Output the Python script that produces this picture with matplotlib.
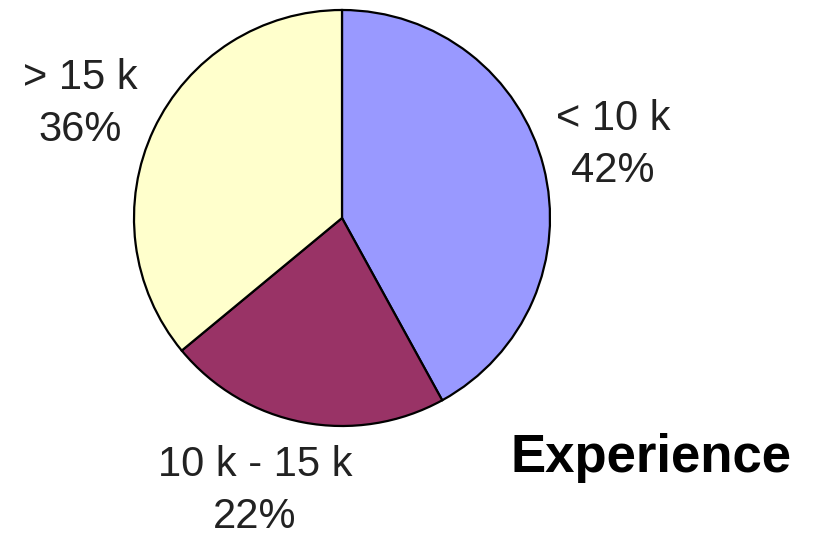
"""Pie chart of experience bands."""

import matplotlib

matplotlib.use("Agg")
import matplotlib.pyplot as plt

categories = ["< 10 k", "10 k - 15 k", "> 15 k"]
shares = [42, 22, 36]
colors = ["#9999FF", "#993366", "#FFFFCC"]
title = "Experience"

# label anchors in figure pixels (x, y from bottom)
label_pos = [(613, 393), (255, 47), (80, 434)]

plt.rcParams["font.family"] = ["Liberation Sans", "DejaVu Sans"]

fig = plt.figure(figsize=(8.13, 5.38), dpi=100)
ax = fig.add_axes([0, 0, 1, 1])

ax.pie(
    shares,
    colors=colors,
    startangle=90,
    counterclock=False,
    center=(342, 320),
    radius=208,
    wedgeprops={"edgecolor": "black", "linewidth": 1.6},
    frame=True,
)
ax.set_xlim(0, 813)
ax.set_ylim(0, 538)
ax.set_aspect("equal")
ax.axis("off")

for name, share, (x, y) in zip(categories, shares, label_pos):
    ax.text(x, y, f"{name}\n{share}%", ha="center", va="center",
            fontsize=30, linespacing=1.4, color="#222222")

ax.text(651, 66, title, ha="center", va="baseline", fontsize=38,
        fontweight="bold", color="black")

fig.savefig("out.png", dpi=100)
